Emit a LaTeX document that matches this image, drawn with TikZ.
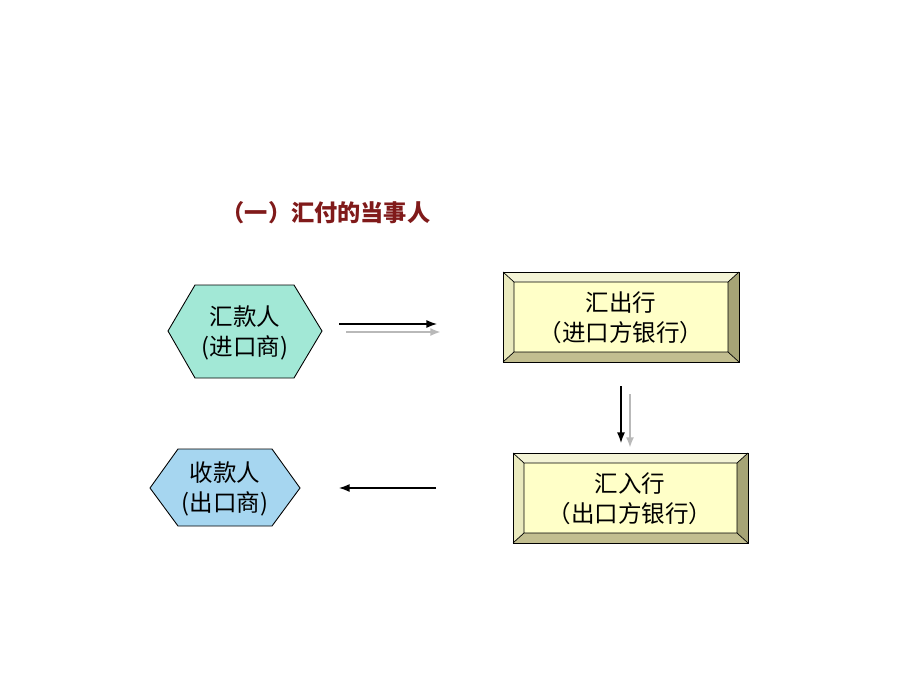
\documentclass[tikz,border=0pt]{standalone}
\usepackage{fontspec}
\setmainfont{Noto Sans CJK SC}
\usetikzlibrary{arrows.meta}
\definecolor{titlered}{RGB}{128,26,26}
\definecolor{hexteal}{RGB}{162,232,214}
\definecolor{hexblue}{RGB}{166,214,240}
\definecolor{boxface}{RGB}{255,255,200}
\definecolor{beveltop}{RGB}{244,244,214}
\definecolor{bevelleft}{RGB}{234,234,190}
\definecolor{bevelright}{RGB}{166,164,118}
\definecolor{bevelbottom}{RGB}{194,190,144}
\tikzset{
  party/.style={align=center, inner sep=0pt},
  flow/.style={-{Latex[length=6pt,width=4.5pt]}, line width=0.7pt},
  flowshade/.style={-{Latex[length=6pt,width=4.5pt]}, line width=1.3pt, gray!55},
}
\begin{document}
\begin{tikzpicture}[x=0.02cm,y=-0.02cm,font=\fontsize{13.4}{17}\selectfont]
\useasboundingbox (0,0) rectangle (920,690);
% title
\node[text=titlered, font=\fontsize{13.2}{15}\selectfont\bfseries] (title) at (326,213) {（一）汇付的当事人};
% hexagons
\draw[fill=hexteal, line width=0.5pt] (168,331) -- (195,285) -- (294,285) -- (322,331) -- (294,378) -- (195,378) -- cycle;
\node[party] (remitter) at (245,333) {汇款人\\(进口商)};
\draw[fill=hexblue, line width=0.5pt] (150,488) -- (178,449) -- (272,449) -- (300,488) -- (272,526) -- (178,526) -- cycle;
\node[party] (payee) at (225,489) {收款人\\(出口商)};
% bevelled boxes
\foreach \xa/\ya/\xb/\yb in {503/272/739/362, 513/453/748/543} {
  \fill[beveltop] (\xa,\ya) -- (\xb,\ya) -- (\xb-11,\ya+10) -- (\xa+11,\ya+10) -- cycle;
  \fill[bevelleft] (\xa,\ya) -- (\xa+11,\ya+10) -- (\xa+11,\yb-10) -- (\xa,\yb) -- cycle;
  \fill[bevelright] (\xb,\ya) -- (\xb,\yb) -- (\xb-11,\yb-10) -- (\xb-11,\ya+10) -- cycle;
  \fill[bevelbottom] (\xa,\yb) -- (\xa+11,\yb-10) -- (\xb-11,\yb-10) -- (\xb,\yb) -- cycle;
  \fill[boxface] (\xa+11,\ya+10) rectangle (\xb-11,\yb-10);
  \draw[line width=0.5pt] (\xa,\ya) rectangle (\xb,\yb);
  \draw[line width=0.4pt] (\xa+11,\ya+10) rectangle (\xb-11,\yb-10)
    (\xa,\ya) -- (\xa+11,\ya+10) (\xb,\ya) -- (\xb-11,\ya+10)
    (\xa,\yb) -- (\xa+11,\yb-10) (\xb,\yb) -- (\xb-11,\yb-10);
}
\node[party] (sendbank) at (621,318) {汇出行\\（进口方银行）};
\node[party] (paybank) at (630,499) {汇入行\\（出口方银行）};
% arrows
\coordinate (a1s) at (339,324);
\coordinate (a1e) at (437,324);
\coordinate (a2s) at (621,386);
\coordinate (a2e) at (621,443);
\coordinate (a3s) at (436,488);
\coordinate (a3e) at (339,488);
\draw[flowshade] ([shift={(7,8)}]a1s) -- ([shift={(4,8)}]a1e);
\draw[flow] (a1s) -- (a1e);
\draw[flowshade] ([shift={(9,8)}]a2s) -- ([shift={(9,5)}]a2e);
\draw[flow] (a2s) -- (a2e);
\draw[flow] (a3s) -- (a3e);
\end{tikzpicture}
\end{document}
